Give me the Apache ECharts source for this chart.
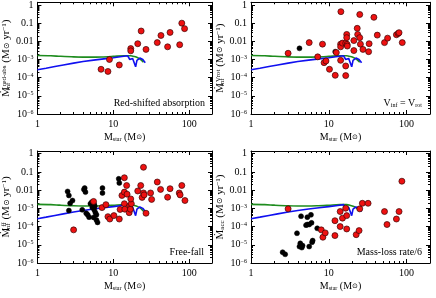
<!DOCTYPE html>
<html><head><meta charset="utf-8">
<script src="https://cdn.jsdelivr.net/npm/echarts@6/dist/echarts.min.js"></script>
<style>html,body{margin:0;padding:0;background:#fff}#c{width:436px;height:298px}</style>
</head><body><div id="c"></div>
<script>
// ---------- data ----------
const xTickValues = [1, 10, 100];
const yTickValues = [1e-6, 1e-5, 1e-4, 1e-3, 0.01, 0.1, 1];

const greenMass = [1, 1.5, 2, 3, 5, 7, 10, 14, 17, 19, 21, 23, 25];
const greenRate = [1.65e-3, 1.6e-3, 1.5e-3, 1.4e-3, 1.35e-3, 1.38e-3, 1.48e-3, 1.6e-3, 1.6e-3, 1.45e-3, 1.25e-3, 1.0e-3, 7.0e-4];

const blueMass = [1, 1.3, 1.7, 2.2, 3, 4, 5.5, 7.5, 10, 13, 15.5, 16.5, 18, 19, 19.7, 20.5, 22.4, 24.5, 26.4];
const blueRate = [2.7e-4, 3.3e-4, 4.1e-4, 5e-4, 6.3e-4, 7.7e-4, 9.2e-4, 1.08e-3, 1.25e-3, 1.45e-3, 1.6e-3, 1.0e-3, 1.15e-3, 9e-4, 4e-4, 9e-4, 1.2e-3, 1.0e-3, 6.7e-4];

// Panel 1: red-shifted absorption
const absRedMass = [6.9, 8.5, 8.9, 12, 17, 17, 21, 23.3, 27, 38, 42.5, 52, 56, 75, 80, 87];
const absRedRate = [2.9e-4, 2.2e-4, 1.0e-3, 5e-4, 4e-3, 3e-3, 7.4e-3, 0.037, 3.6e-3, 8.5e-3, 0.021, 5e-3, 0.031, 6.5e-3, 0.1, 0.05];

// Panel 2: V_inf = V_rot
const rotRedMass = [3.0, 5.6, 7.2, 8.3, 8.7, 9.2, 10.2, 12.1, 12.5, 14.3, 14.2, 14.2, 14.2, 15, 16.5, 16.5, 16.5, 17, 17, 17.2, 17.3, 21, 21, 23.2, 23.5, 25, 25, 25.5, 27.5, 32.5, 33, 38, 42, 52, 57, 74, 78, 80, 88];
const rotRedRate = [2.2e-3, 8.5e-3, 1.4e-3, 7e-3, 6.7e-4, 8.3e-4, 2.9e-4, 1.35e-4, 2.4e-3, 0.43, 7e-3, 5e-3, 9e-4, 8e-3, 4.4e-4, 1.3e-4, 7.8e-3, 0.024, 0.016, 6.8e-3, 5.5e-3, 3.1e-3, 0.011, 0.052, 0.024, 0.3, 0.016, 7e-3, 3.6e-3, 2.7e-3, 7.4e-3, 0.21, 0.022, 8.5e-3, 0.015, 0.023, 0.027, 0.03, 8.5e-3];
const rotBlackMass = [4.2, 12.1];
const rotBlackRate = [4.1e-3, 2.7e-3];

// Panel 3: free-fall
const ffBlackMass = [2.5, 2.6, 2.6, 2.7, 2.9, 3.9, 4.2, 4.3, 4.1, 4.4, 4.6, 4.8, 5.0, 5.2, 5.3, 5.5, 5.6, 5.7, 5.8, 6.0, 6.2, 6.0, 5.6, 7.2, 7.2, 11.8, 12.0];
const ffBlackRate = [8.5e-3, 5.1e-3, 7.6e-4, 1.9e-3, 2.7e-3, 8.3e-4, 0.013, 7.8e-3, 0.011, 5.4e-4, 4.4e-4, 3.3e-4, 1.8e-3, 2.2e-3, 1.1e-3, 3.2e-4, 8.5e-4, 1.3e-3, 6e-4, 2.3e-4, 1.7e-4, 4.5e-4, 1.7e-3, 0.013, 7e-3, 0.042, 0.025];
const ffRedMass = [3.0, 5.5, 7.1, 8.0, 8.5, 9.0, 10.2, 12, 12.3, 13, 14, 14, 14, 14.2, 15, 15.2, 16.5, 16.2, 16.8, 17.3, 17, 21, 23, 24, 25, 25, 25.5, 27, 31, 32, 38, 42, 52, 56, 74, 76, 80, 88];
const ffRedRate = [6.6e-5, 2.4e-3, 1.1e-3, 1.6e-3, 3.5e-4, 2.6e-4, 4e-4, 2.6e-4, 8.7e-4, 5.1e-3, 0.048, 7.8e-3, 1.8e-3, 9e-4, 0.018, 6e-3, 1.4e-3, 5.8e-4, 9e-4, 1.8e-3, 3.3e-3, 9e-3, 0.018, 4e-3, 0.18, 7e-3, 5.5e-3, 5.4e-4, 7e-3, 3.1e-3, 0.028, 0.011, 4.1e-3, 0.012, 7e-3, 5.5e-3, 0.018, 2.7e-3];

// Panel 4: mass-loss rate / 6
const mlBlackMass = [2.55, 2.75, 3.9, 4.3, 4.2, 4.4, 4.5, 4.6, 5.1, 5.3, 5.3, 5.9, 5.6, 6.0, 5.6, 6.1, 6.2, 7.1];
const mlBlackRate = [3.9e-6, 3e-6, 4.3e-5, 1.2e-5, 8e-6, 3.7e-4, 7e-6, 9e-6, 1.2e-4, 1.3e-4, 3.3e-4, 4.4e-4, 1.3e-4, 1.6e-4, 8e-6, 1.4e-5, 1.7e-5, 8e-5];
const mlRedMass = [3.0, 8, 8.4, 9, 12, 12, 14, 14, 15, 16.5, 17, 17, 22.5, 24.5, 25, 27, 32, 52, 56, 74, 80, 87];
const mlRedRate = [9.4e-4, 6.6e-5, 2.6e-5, 4.5e-5, 2.1e-4, 3.2e-5, 6.7e-4, 1e-4, 2.9e-4, 1.02e-3, 4e-4, 7.4e-5, 3.6e-5, 6e-5, 9.4e-4, 1.9e-3, 1.9e-3, 6.7e-4, 1.3e-4, 2.6e-4, 6.7e-4, 0.031];

// ---------- chart ----------
const FONT = "'Liberation Serif', 'Times New Roman', serif";
const lg = v => Math.log10(v);
const pairs = (xs, ys) => xs.map((x, i) => [lg(x), lg(ys[i])]);

const X_MIN = 0, X_MAX = lg(200), Y_MIN = -6, Y_MAX = 0.15;
const xMajor = xTickValues.map(lg);
const yMajor = yTickValues.map(lg);
const xMinor = [], yMinor = [];
for (let d = 0; d <= 2; d++) for (let k = 2; k <= 9; k++) { const v = d + lg(k); if (v <= X_MAX) xMinor.push(v); }
for (let d = -6; d <= 0; d++) for (let k = 2; k <= 9; k++) { const v = d + lg(k); if (v <= Y_MAX) yMinor.push(v); }

const grids = [
  {left: 34, top: 2, width: 178, height: 112},
  {left: 251, top: 2, width: 179, height: 112},
  {left: 34, top: 151, width: 178, height: 112},
  {left: 251, top: 151, width: 179, height: 112}
];

const yNames = [
  '{m|Ṁ}{sb|inf}{sp|red-abs}{t| (M}{o|⊙}{t| yr}{e|−1}{t|)}',
  '{m|Ṁ}{sb|inf}{sp|Vrot}{t| (M}{o|⊙}{t| yr}{e|−1}{t|)}',
  '{m|Ṁ}{sb|inf}{sp|ff}{t| (M}{o|⊙}{t| yr}{e|−1}{t|)}',
  '{m|Ṁ}{sa|acc}{t| (M}{o|⊙}{t| yr}{e|−1}{t|)}'
];
const nameRich = {
  m: {fontSize: 11, fontFamily: FONT, color: '#000'},
  t: {fontSize: 11, fontFamily: FONT, color: '#000'},
  o: {fontSize: 8, fontFamily: 'DejaVu Sans', color: '#000'},
  sb: {fontSize: 7, fontFamily: FONT, color: '#000', verticalAlign: 'bottom', width: 1},
  sa: {fontSize: 7, fontFamily: FONT, color: '#000', verticalAlign: 'bottom'},
  sp: {fontSize: 7, fontFamily: FONT, color: '#000', verticalAlign: 'top'},
  e: {fontSize: 7, fontFamily: FONT, color: '#000', verticalAlign: 'top'}
};
const xName = '{t|M}{s|star}{t| (M}{o|⊙}{t|)}';
const xNameRich = {
  t: {fontSize: 10, fontFamily: FONT, color: '#000'},
  s: {fontSize: 6, fontFamily: FONT, color: '#000', verticalAlign: 'bottom'},
  o: {fontSize: 7, fontFamily: 'DejaVu Sans', color: '#000'}
};

const lineStyleAxis = {color: '#000', width: 1};
const xAxes = [], yAxes = [];
grids.forEach((g, gi) => {
  const base = {gridIndex: gi, type: 'value', min: X_MIN, max: X_MAX, splitLine: {show: false}};
  xAxes.push(Object.assign({}, base, {
    position: 'bottom',
    axisLine: {show: true, onZero: false, lineStyle: lineStyleAxis},
    axisTick: {show: true, inside: true, length: 4, customValues: xMajor, lineStyle: lineStyleAxis},
    axisLabel: {show: true, customValues: xMajor, margin: 5, fontSize: 10, fontFamily: FONT, color: '#000',
      formatter: v => String(Math.round(Math.pow(10, v)))},
    name: xName, nameLocation: 'middle', nameGap: 18,
    nameTextStyle: {rich: xNameRich}
  }));
  xAxes.push(Object.assign({}, base, {
    position: 'bottom',
    axisLine: {show: false, onZero: false},
    axisTick: {show: true, inside: true, length: 2, customValues: xMinor, lineStyle: lineStyleAxis},
    axisLabel: {show: false}
  }));
  xAxes.push(Object.assign({}, base, {
    position: 'top',
    axisLine: {show: true, onZero: false, lineStyle: lineStyleAxis},
    axisTick: {show: true, inside: true, length: 4, customValues: xMajor, lineStyle: lineStyleAxis},
    axisLabel: {show: false}
  }));
  xAxes.push(Object.assign({}, base, {
    position: 'top',
    axisLine: {show: false, onZero: false},
    axisTick: {show: true, inside: true, length: 2, customValues: xMinor, lineStyle: lineStyleAxis},
    axisLabel: {show: false}
  }));

  const ybase = {gridIndex: gi, type: 'value', min: Y_MIN, max: Y_MAX, splitLine: {show: false}};
  yAxes.push(Object.assign({}, ybase, {
    position: 'left',
    axisLine: {show: true, onZero: false, lineStyle: lineStyleAxis},
    axisTick: {show: true, inside: true, length: 4, customValues: yMajor, lineStyle: lineStyleAxis},
    axisLabel: {show: true, customValues: yMajor, margin: 4, fontSize: 10, fontFamily: FONT, color: '#000',
      formatter: v => {
        const r = Math.round(v);
        if (r === 0) return '{b|1}';
        if (r === -1) return '{b|0.1}';
        if (r === -2) return '{b|0.01}';
        return '{b|10}{s|−' + (-r) + '}';
      },
      rich: {
        b: {fontSize: 10, fontFamily: FONT, color: '#000'},
        s: {fontSize: 6, fontFamily: FONT, color: '#000', verticalAlign: 'top'}
      }
    },
    name: yNames[gi], nameLocation: 'middle', nameGap: 20,
    nameTextStyle: {rich: nameRich}
  }));
  yAxes.push(Object.assign({}, ybase, {
    position: 'left',
    axisLine: {show: false, onZero: false},
    axisTick: {show: true, inside: true, length: 2, customValues: yMinor, lineStyle: lineStyleAxis},
    axisLabel: {show: false}
  }));
  yAxes.push(Object.assign({}, ybase, {
    position: 'right',
    axisLine: {show: true, onZero: false, lineStyle: lineStyleAxis},
    axisTick: {show: true, inside: true, length: 4, customValues: yMajor, lineStyle: lineStyleAxis},
    axisLabel: {show: false}
  }));
  yAxes.push(Object.assign({}, ybase, {
    position: 'right',
    axisLine: {show: false, onZero: false},
    axisTick: {show: true, inside: true, length: 2, customValues: yMinor, lineStyle: lineStyleAxis},
    axisLabel: {show: false}
  }));
});

const RED = {color: '#ee1111', borderColor: '#3a0505', borderWidth: 0.7, opacity: 1};
const BLACK = {color: '#000', borderColor: '#000', borderWidth: 0.5, opacity: 1};
const panelPoints = [
  {red: pairs(absRedMass, absRedRate), black: []},
  {red: pairs(rotRedMass, rotRedRate), black: pairs(rotBlackMass, rotBlackRate)},
  {red: pairs(ffRedMass, ffRedRate), black: pairs(ffBlackMass, ffBlackRate)},
  {red: pairs(mlRedMass, mlRedRate), black: pairs(mlBlackMass, mlBlackRate)}
];

const series = [];
grids.forEach((g, gi) => {
  const xi = gi * 4, yi = gi * 4;
  series.push({type: 'line', xAxisIndex: xi, yAxisIndex: yi, data: pairs(greenMass, greenRate),
    showSymbol: false, smooth: 0.3, lineStyle: {color: '#1e8c1e', width: 1.6}, z: 2, silent: true});
  series.push({type: 'line', xAxisIndex: xi, yAxisIndex: yi, data: pairs(blueMass, blueRate),
    showSymbol: false, lineStyle: {color: '#1010f0', width: 1.6}, z: 3, silent: true});
  series.push({type: 'scatter', xAxisIndex: xi, yAxisIndex: yi, data: panelPoints[gi].black,
    symbolSize: 5, itemStyle: BLACK, z: 4});
  series.push({type: 'scatter', xAxisIndex: xi, yAxisIndex: yi, data: panelPoints[gi].red,
    symbolSize: 6, itemStyle: RED, z: 5});
});

const annFont = FONT;
const graphic = [
  {type: 'text', x: 205, y: 103, style: {text: 'Red-shifted absorption', font: "10px " + annFont, fill: '#000', align: 'right', verticalAlign: 'middle'}},
  {type: 'text', x: 422, y: 103, style: {text: '{a|V}{s|inf}{a| = V}{s|rot}', align: 'right', verticalAlign: 'middle',
    rich: {a: {fontSize: 10, fontFamily: annFont, fill: '#000'}, s: {fontSize: 6, fontFamily: annFont, fill: '#000', verticalAlign: 'bottom'}}}},
  {type: 'text', x: 204, y: 252, style: {text: 'Free-fall', font: "10px " + annFont, fill: '#000', align: 'right', verticalAlign: 'middle'}},
  {type: 'text', x: 422, y: 252, style: {text: 'Mass-loss rate/6', font: "10px " + annFont, fill: '#000', align: 'right', verticalAlign: 'middle'}}
];

const chart = echarts.init(document.getElementById('c'), null, {renderer: 'canvas'});
chart.setOption({
  animation: false,
  backgroundColor: '#fff',
  grid: grids,
  xAxis: xAxes,
  yAxis: yAxes,
  series: series,
  graphic: graphic
});
</script></body></html>
